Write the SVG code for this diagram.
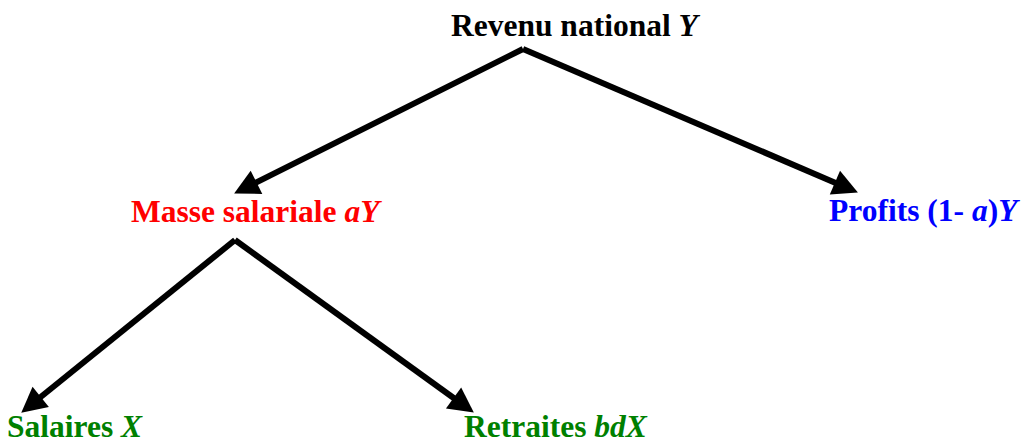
<svg xmlns="http://www.w3.org/2000/svg" width="1023" height="442" viewBox="0 0 1023 442">
<style>
text{font-family:'Liberation Serif',Tinos,'Times New Roman','DejaVu Serif',serif;font-weight:700;font-size:31.5px}
.i{font-style:italic}
.c{stroke:#000;stroke-width:6;fill:none;marker-end:url(#ah)}
</style>
<defs>
<marker id="ah" markerUnits="userSpaceOnUse" markerWidth="28" markerHeight="28" refX="4" refY="13" orient="auto" overflow="visible">
<path d="M0,0 L25,13 L0,26 z" fill="#000"/>
</marker>
</defs>
<rect width="1023" height="442" fill="#fff"/>
<g id="connectors">
<line class="c" x1="523" y1="49" x2="252.9" y2="184.1"/>
<line class="c" x1="523" y1="49" x2="838.6" y2="184.2"/>
<line class="c" x1="235" y1="240" x2="37.6" y2="399.5"/>
<line class="c" x1="235" y1="240" x2="456.8" y2="400.3"/>
</g>
<g id="revenu"><text x="451" y="36" fill="#000">Revenu national <tspan class="i">Y</tspan></text></g>
<g id="masse"><text x="131" y="222" fill="#ff0000">Masse salariale <tspan class="i">aY</tspan></text></g>
<g id="profits"><text x="829" y="221" fill="#0000ff">Profits (1- <tspan class="i">a</tspan>)<tspan class="i">Y</tspan></text></g>
<g id="salaires"><text x="7" y="437" fill="#008000">Salaires <tspan class="i">X</tspan></text></g>
<g id="retraites"><text x="464" y="437" fill="#008000">Retraites <tspan class="i">bdX</tspan></text></g>
</svg>
